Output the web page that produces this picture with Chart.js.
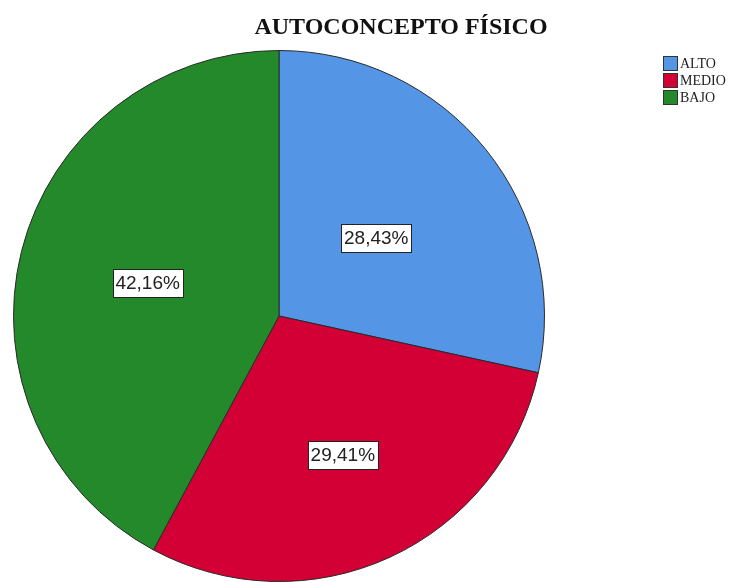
<!DOCTYPE html>
<html>
<head>
<meta charset="utf-8">
<script src="https://cdn.jsdelivr.net/npm/chart.js@4"></script>
<style>
    html, body { margin: 0; padding: 0; background: #fff; }
    #wrap { width: 746px; height: 582px; position: relative; }
</style>
</head>
<body>
<div id="wrap"><canvas id="pieChart"></canvas></div>
<script>
const CHART_TITLE = 'AUTOCONCEPTO FÍSICO';
const LABELS = ['ALTO', 'MEDIO', 'BAJO'];
const VALUES = [28.43, 29.41, 42.16];
const COLORS = ['#5595e5', '#d20035', '#23892b'];

// how far out along each slice the value box sits (fraction of radius)
const LABEL_RADIUS = [0.47, 0.575, 0.51];

// draws the value boxes inside each slice
const sliceLabels = {
    id: 'sliceLabels',
    afterDatasetsDraw(chart) {
        const ctx = chart.ctx;
        const meta = chart.getDatasetMeta(0);
        ctx.save();
        ctx.font = '19px "Liberation Sans", Arial, sans-serif';
        ctx.textAlign = 'center';
        ctx.textBaseline = 'middle';
        meta.data.forEach((arc, i) => {
            const mid = (arc.startAngle + arc.endAngle) / 2;
            const r = arc.outerRadius * LABEL_RADIUS[i];
            const px = arc.x + Math.cos(mid) * r;
            const py = arc.y + Math.sin(mid) * r;
            const text = VALUES[i].toFixed(2).replace('.', ',') + '%';
            const w = Math.round(ctx.measureText(text).width) + 6;
            const h = 28;
            const x = Math.round(px - w / 2) + 0.5;
            const y = Math.round(py - h / 2) + 0.5;
            ctx.fillStyle = '#fff';
            ctx.fillRect(x, y, w, h);
            ctx.strokeStyle = '#222';
            ctx.lineWidth = 1;
            ctx.strokeRect(x, y, w, h);
            ctx.fillStyle = '#222';
            ctx.fillText(text, px, py + 1);
        });
        ctx.restore();
    }
};

// title and legend in the top right
const headerAndLegend = {
    id: 'headerAndLegend',
    afterDraw(chart) {
        const ctx = chart.ctx;
        ctx.save();
        ctx.fillStyle = '#111';
        ctx.font = 'bold 24px "Liberation Serif", "Times New Roman", serif';
        ctx.textAlign = 'center';
        ctx.textBaseline = 'alphabetic';
        ctx.fillText(CHART_TITLE, 401, 34);

        ctx.font = '14px "Liberation Serif", "Times New Roman", serif';
        ctx.textAlign = 'left';
        ctx.textBaseline = 'middle';
        LABELS.forEach((label, i) => {
            const y = 56 + i * 17;
            ctx.fillStyle = COLORS[i];
            ctx.fillRect(663, y, 15, 15);
            ctx.strokeStyle = '#333';
            ctx.lineWidth = 1;
            ctx.strokeRect(663.5, y + 0.5, 14, 14);
            ctx.fillStyle = '#222';
            ctx.fillText(label, 680, y + 8);
        });
        ctx.restore();
    }
};

new Chart(document.getElementById('pieChart'), {
    type: 'pie',
    data: {
        labels: LABELS,
        datasets: [{
            data: VALUES,
            backgroundColor: COLORS,
            borderColor: '#2a2a2a',
            borderWidth: 1
        }]
    },
    options: {
        responsive: true,
        maintainAspectRatio: false,
        animation: false,
        layout: { padding: { left: 12, right: 200, top: 50, bottom: 0 } },
        plugins: {
            legend: { display: false },
            title: { display: false },
            tooltip: { enabled: false }
        }
    },
    plugins: [sliceLabels, headerAndLegend]
});
</script>
</body>
</html>
